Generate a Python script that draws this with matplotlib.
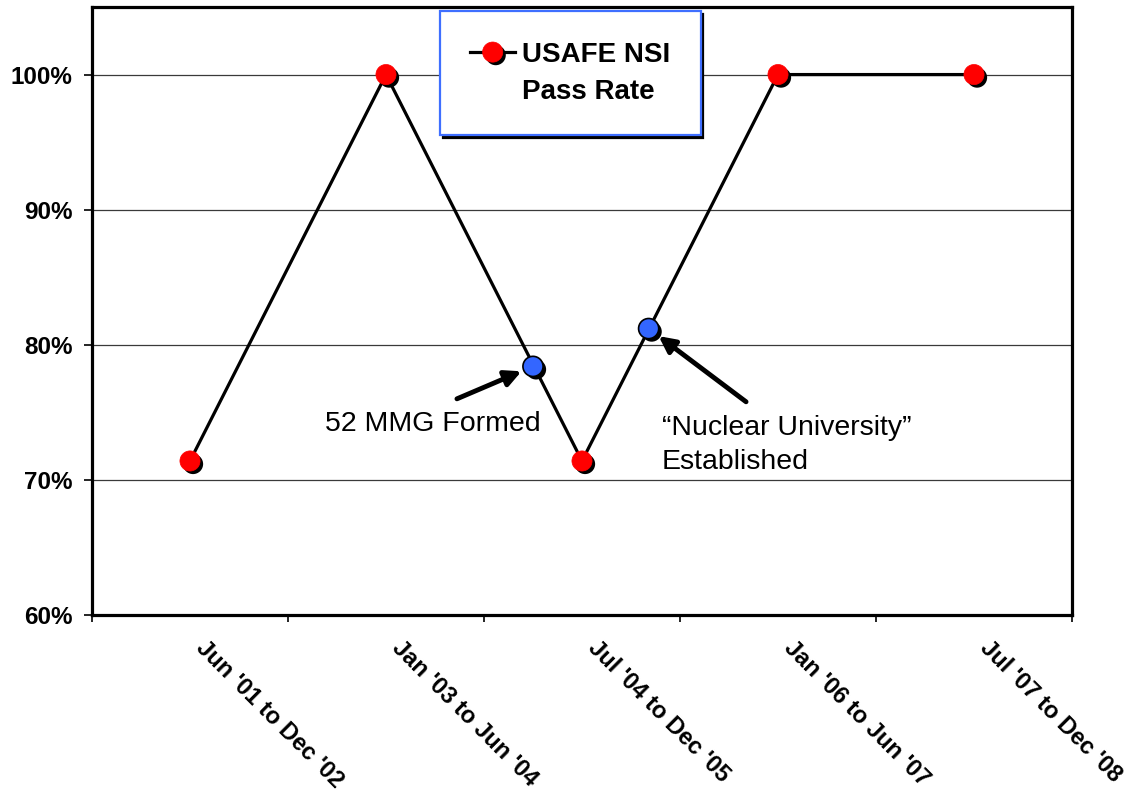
import numpy as np
import matplotlib
matplotlib.use('Agg')
import matplotlib.pyplot as plt
from matplotlib import patheffects as pe
from matplotlib.lines import Line2D
from matplotlib.legend_handler import HandlerTuple
from matplotlib.transforms import ScaledTranslation

# ---- data ----
periods = ["Jun '01 to Dec '02", "Jan '03 to Jun '04", "Jul '04 to Dec '05",
           "Jan '06 to Jun '07", "Jul '07 to Dec '08"]
pass_rate = [71.4, 100.0, 71.4, 100.0, 100.0]
milestone_x = [1.75, 2.34]
milestone_y = [78.4, 81.2]
milestone_labels = ["52 MMG Formed", "\u201cNuclear University\u201d\nEstablished"]
y_ticks = [60, 70, 80, 90, 100]
y_tick_labels = ["60%", "70%", "80%", "90%", "100%"]
series_name = ["USAFE NSI", "Pass Rate"]

plt.rcParams['font.family'] = ['Liberation Sans', 'DejaVu Sans']

W, H = 1130, 794
fig = plt.figure(figsize=(W / 100, H / 100), dpi=100)
ax = fig.add_axes([92 / W, 1 - 615 / H, 980 / W, 608 / H])

x = np.arange(len(periods))
ax.set_xlim(-0.5, len(periods) - 0.5)
ax.set_ylim(60, 105)

# y axis
ax.set_yticks(y_ticks, labels=y_tick_labels)
ax.tick_params(axis='y', length=6, width=1.2, pad=8, labelsize=17.5)
for lab in ax.get_yticklabels():
    lab.set_fontweight('bold')
ax.yaxis.grid(True, color='#3a3a3a', lw=0.9)
ax.set_axisbelow(True)

# x axis: boundary ticks (major) and centered labels (minor)
ax.set_xticks(np.arange(len(periods) + 1) - 0.5)
ax.set_xticklabels([])
ax.set_xticks(x, labels=periods, minor=True)
ax.tick_params(axis='x', which='major', length=5, width=1.2, direction='out')
ax.tick_params(axis='x', which='minor', length=0, pad=15, labelsize=17)
shift = ScaledTranslation(18 / 100, 0, fig.dpi_scale_trans)
for lab in ax.get_xticklabels(minor=True):
    lab.set_rotation(-45)
    lab.set_ha('left')
    lab.set_va('top')
    lab.set_rotation_mode('anchor')
    lab.set_fontweight('bold')
    lab.set_transform(lab.get_transform() + shift)

for sp in ax.spines.values():
    sp.set_linewidth(2.3)
    sp.set_color('black')

shadow = [pe.SimplePatchShadow(offset=(2.2, -2.2), shadow_rgbFace='black', alpha=1.0),
          pe.Normal()]

line_art, = ax.plot(x, pass_rate, color='black', lw=2.3, zorder=3)
mark_art, = ax.plot(x, pass_rate, ls='none', marker='o', ms=14.5,
                    mfc='#FF0000', mec='#FF0000', mew=0.5,
                    path_effects=shadow, zorder=4)
ax.plot(milestone_x, milestone_y, ls='none', marker='o', ms=14.5,
        mfc='#3366FF', mec='black', mew=1.2, path_effects=shadow, zorder=4)

# annotations
arrow_kw = dict(arrowstyle='-|>', lw=3.5, color='black', mutation_scale=24,
                shrinkA=0, shrinkB=9)
ax.annotate('', xy=(milestone_x[0], milestone_y[0]), xytext=(1.362, 76.0),
            arrowprops=arrow_kw, zorder=5)
ax.annotate('', xy=(milestone_x[1], milestone_y[1]), xytext=(2.837, 75.78),
            arrowprops=arrow_kw, zorder=5)
ax.text(0.689, 74.15, milestone_labels[0], fontsize=20.5, ha='left', va='center')
ax.text(2.408, 72.6, milestone_labels[1], fontsize=20.5, ha='left', va='center',
        linespacing=1.42)

# legend
blank = Line2D([], [], ls='none')
leg = ax.legend(handles=[(line_art, mark_art), blank], labels=series_name,
                handler_map={tuple: HandlerTuple(ndivide=1)},
                loc='upper left', bbox_to_anchor=(0.355, 0.993), borderaxespad=0,
                prop={'size': 20, 'weight': 'bold'}, frameon=True, fancybox=False,
                edgecolor='#3F6FFF', framealpha=1,
                shadow={'facecolor': 'black', 'edgecolor': 'black', 'alpha': 1},
                borderpad=1.1, labelspacing=0.4, handlelength=1.6,
                handletextpad=0.25, numpoints=1)
leg.get_frame().set_linewidth(1.6)

fig.savefig('out.png', dpi=100)
